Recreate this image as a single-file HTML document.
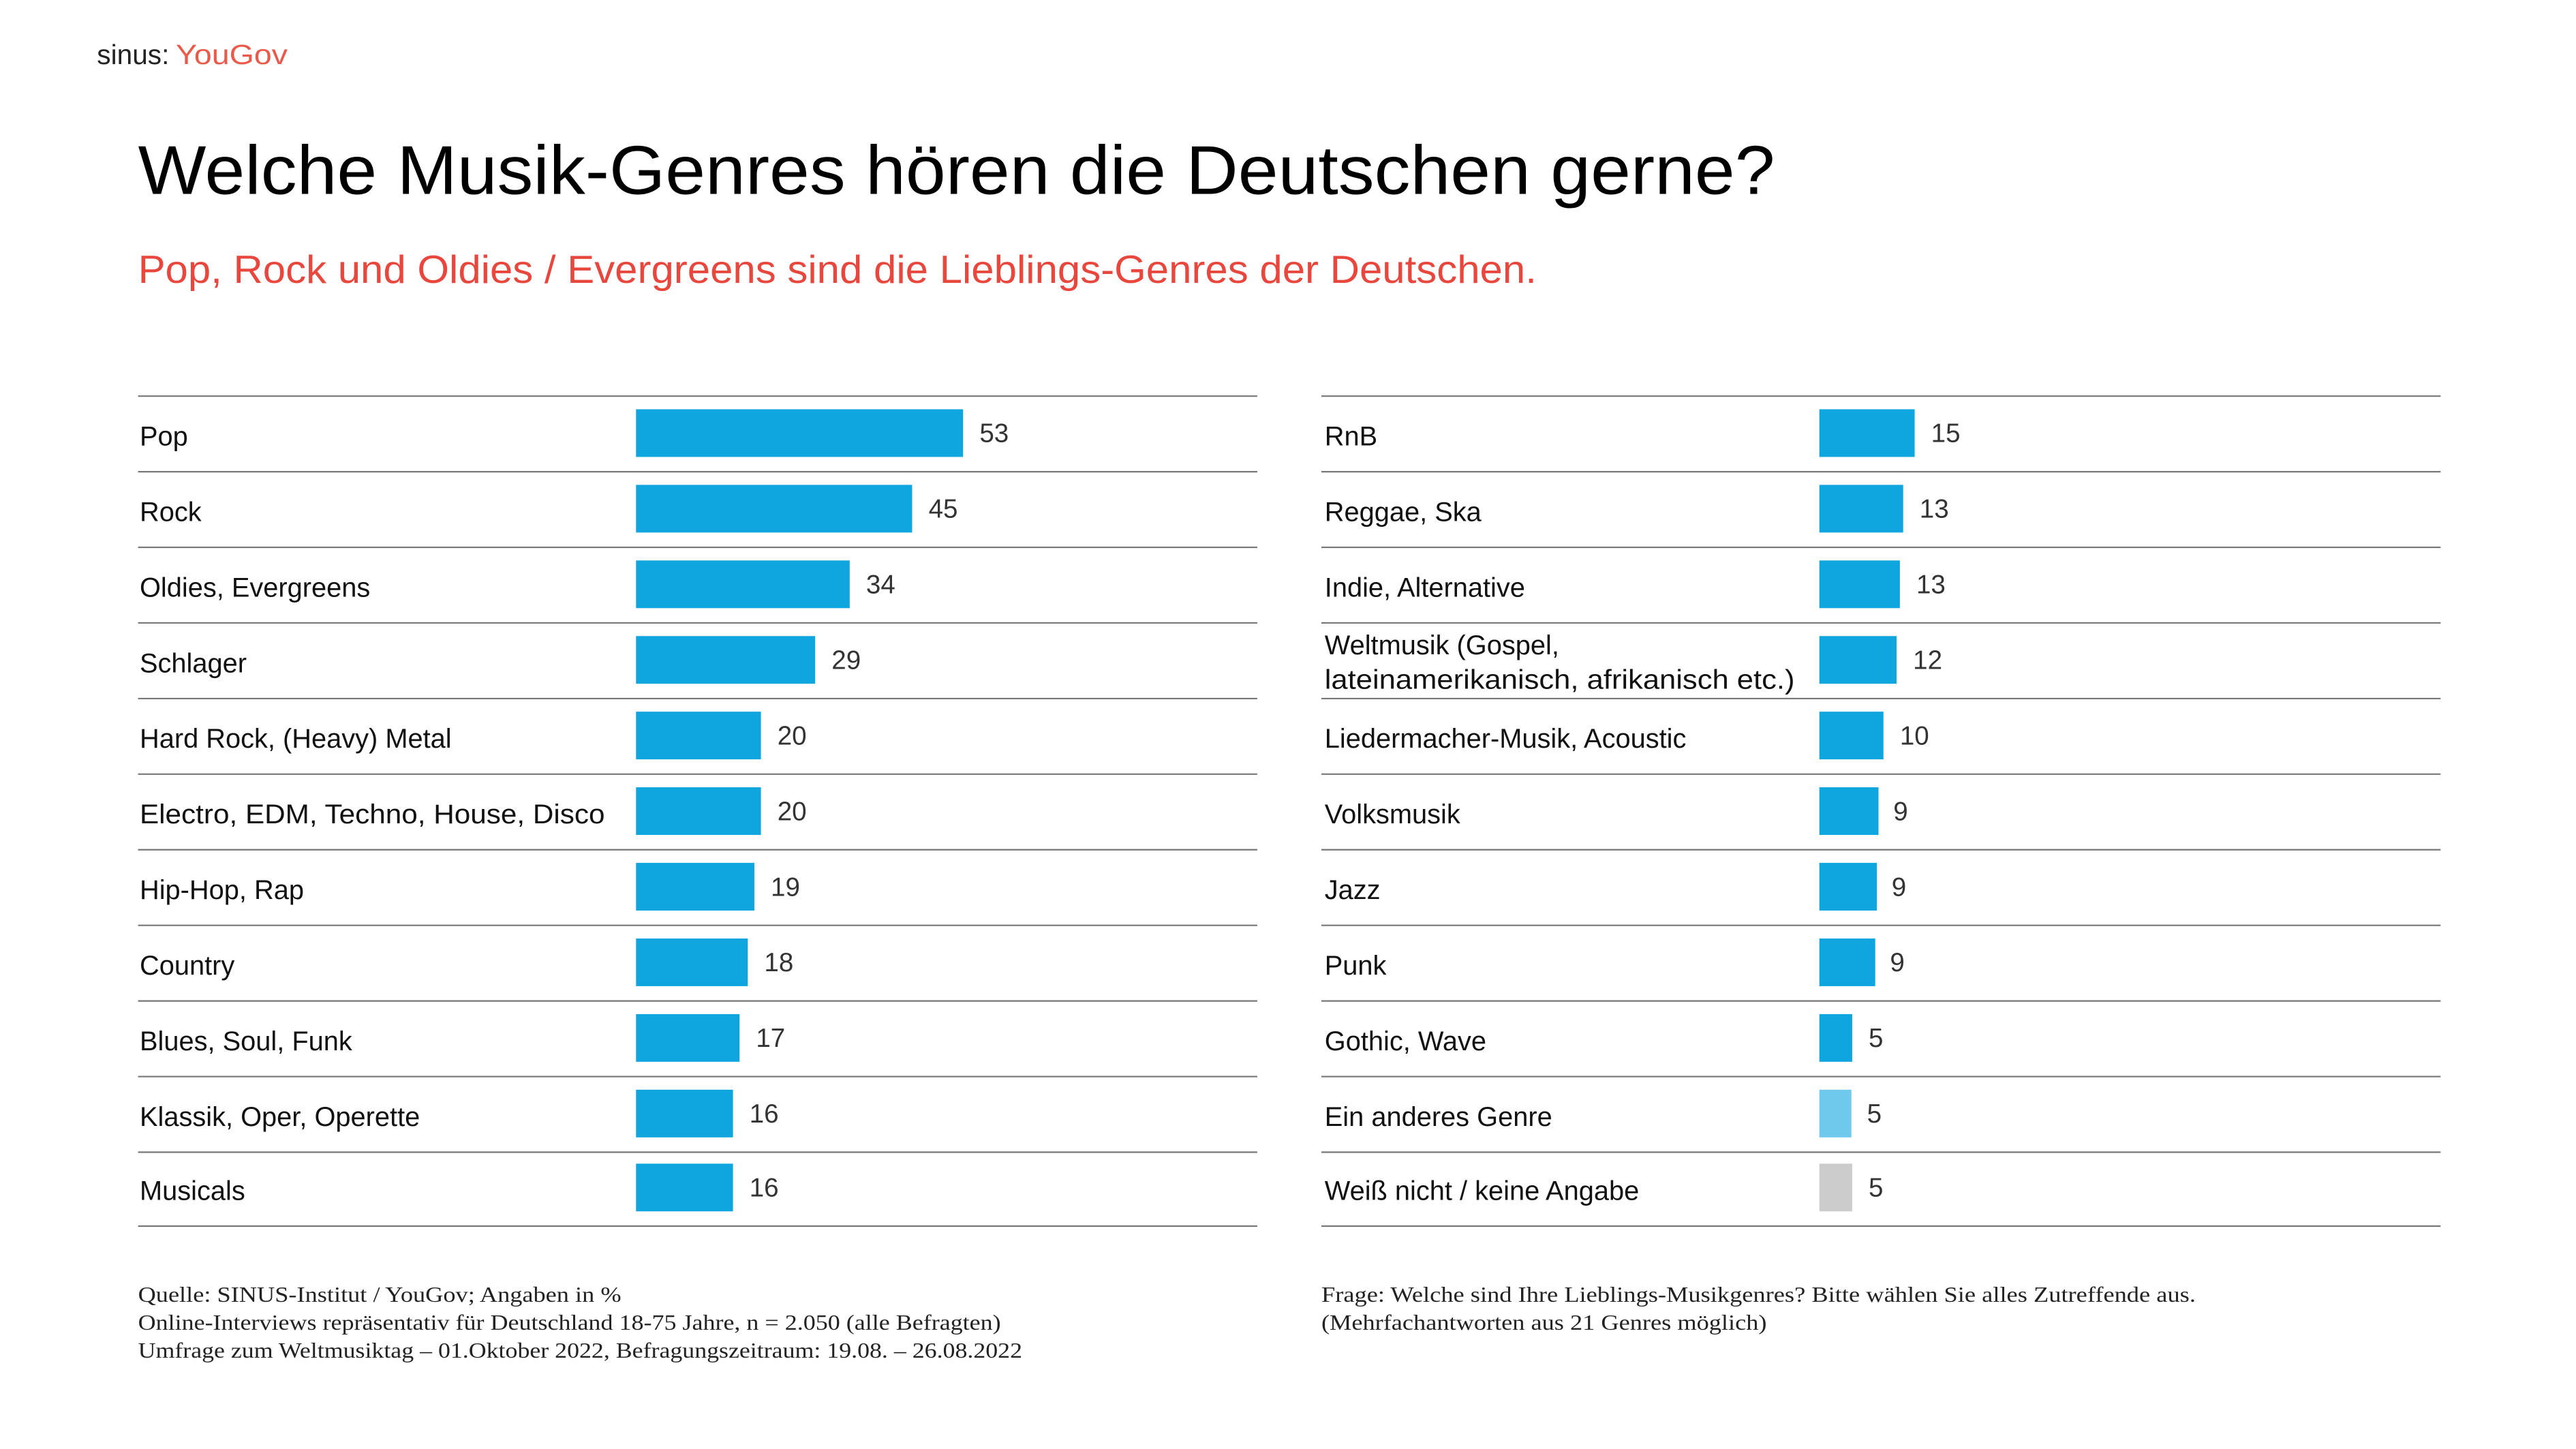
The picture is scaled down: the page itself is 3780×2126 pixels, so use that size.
<!DOCTYPE html>
<html><head><meta charset="utf-8"><style>html,body{margin:0;padding:0;background:#fff}svg{display:block}</style></head>
<body>
<svg xmlns="http://www.w3.org/2000/svg" width="3780" height="2126" viewBox="0 0 1567.4 881.6" preserveAspectRatio="none">
<rect width="1567.4" height="881.6" fill="#fff"/>
<g font-family="'Liberation Sans', 'DejaVu Sans', sans-serif">
<text x="59" y="39" font-size="17" fill="#222" textLength="44" lengthAdjust="spacingAndGlyphs">sinus:</text>
<text x="107" y="39" font-size="17" fill="#ea5a4a" textLength="68" lengthAdjust="spacingAndGlyphs">YouGov</text>
<text x="84" y="118" font-size="42" fill="#000" textLength="996" lengthAdjust="spacingAndGlyphs">Welche Musik-Genres hören die Deutschen gerne?</text>
<text x="84" y="172" font-size="24" fill="#e8473d" textLength="851" lengthAdjust="spacingAndGlyphs">Pop, Rock und Oldies / Evergreens sind die Lieblings-Genres der Deutschen.</text>
<g stroke="#777" stroke-width="0.9">
<line x1="84" x2="765" y1="241" y2="241"/><line x1="84" x2="765" y1="287" y2="287"/><line x1="84" x2="765" y1="333" y2="333"/><line x1="84" x2="765" y1="379" y2="379"/><line x1="84" x2="765" y1="425" y2="425"/><line x1="84" x2="765" y1="471" y2="471"/><line x1="84" x2="765" y1="517" y2="517"/><line x1="84" x2="765" y1="563" y2="563"/><line x1="84" x2="765" y1="609" y2="609"/><line x1="84" x2="765" y1="655" y2="655"/><line x1="84" x2="765" y1="701" y2="701"/><line x1="84" x2="765" y1="746" y2="746"/>
<line x1="804" x2="1485" y1="241" y2="241"/><line x1="804" x2="1485" y1="287" y2="287"/><line x1="804" x2="1485" y1="333" y2="333"/><line x1="804" x2="1485" y1="379" y2="379"/><line x1="804" x2="1485" y1="425" y2="425"/><line x1="804" x2="1485" y1="471" y2="471"/><line x1="804" x2="1485" y1="517" y2="517"/><line x1="804" x2="1485" y1="563" y2="563"/><line x1="804" x2="1485" y1="609" y2="609"/><line x1="804" x2="1485" y1="655" y2="655"/><line x1="804" x2="1485" y1="701" y2="701"/><line x1="804" x2="1485" y1="746" y2="746"/>
</g>
<g fill="#0fa5de">
<rect x="387" y="249" width="199" height="29"/><rect x="387" y="295" width="168" height="29"/><rect x="387" y="341" width="130" height="29"/><rect x="387" y="387" width="109" height="29"/><rect x="387" y="433" width="76" height="29"/><rect x="387" y="479" width="76" height="29"/><rect x="387" y="525" width="72" height="29"/><rect x="387" y="571" width="68" height="29"/><rect x="387" y="617" width="63" height="29"/><rect x="387" y="663" width="59" height="29"/><rect x="387" y="708" width="59" height="29"/>
<rect x="1107" y="249" width="58" height="29"/><rect x="1107" y="295" width="51" height="29"/><rect x="1107" y="341" width="49" height="29"/><rect x="1107" y="387" width="47" height="29"/><rect x="1107" y="433" width="39" height="29"/><rect x="1107" y="479" width="36" height="29"/><rect x="1107" y="525" width="35" height="29"/><rect x="1107" y="571" width="34" height="29"/><rect x="1107" y="617" width="20" height="29"/>
</g>
<rect x="1107" y="663" width="19.5" height="29" fill="#6fc9ec"/>
<rect x="1107" y="708" width="20" height="29" fill="#cccccc"/>
<g font-size="16.5" fill="#111">
<text x="85" y="271">Pop</text><text x="85" y="317">Rock</text><text x="85" y="363">Oldies, Evergreens</text><text x="85" y="409">Schlager</text><text x="85" y="455">Hard Rock, (Heavy) Metal</text><text x="85" y="501" textLength="283" lengthAdjust="spacingAndGlyphs">Electro,  EDM, Techno, House, Disco</text><text x="85" y="547">Hip-Hop, Rap</text><text x="85" y="593">Country</text><text x="85" y="639">Blues, Soul, Funk</text><text x="85" y="685">Klassik, Oper, Operette</text><text x="85" y="730">Musicals</text>
<text x="806" y="271">RnB</text><text x="806" y="317">Reggae, Ska</text><text x="806" y="363">Indie, Alternative</text><text x="806" y="398">Weltmusik (Gospel,</text><text x="806" y="419" textLength="286" lengthAdjust="spacingAndGlyphs">lateinamerikanisch, afrikanisch etc.)</text><text x="806" y="455">Liedermacher-Musik, Acoustic</text><text x="806" y="501">Volksmusik</text><text x="806" y="547">Jazz</text><text x="806" y="593">Punk</text><text x="806" y="639">Gothic, Wave</text><text x="806" y="685">Ein anderes Genre</text><text x="806" y="730">Weiß nicht / keine Angabe</text>
</g>
<g font-size="16" fill="#333">
<text x="596" y="269">53</text><text x="565" y="315">45</text><text x="527" y="361">34</text><text x="506" y="407">29</text><text x="473" y="453">20</text><text x="473" y="499">20</text><text x="469" y="545">19</text><text x="465" y="591">18</text><text x="460" y="637">17</text><text x="456" y="683">16</text><text x="456" y="728">16</text>
<text x="1175" y="269">15</text><text x="1168" y="315">13</text><text x="1166" y="361">13</text><text x="1164" y="407">12</text><text x="1156" y="453">10</text><text x="1152" y="499">9</text><text x="1151" y="545">9</text><text x="1150" y="591">9</text><text x="1137" y="637">5</text><text x="1136" y="683">5</text><text x="1137" y="728">5</text>
</g>
</g>
<g font-family="'Liberation Serif', serif" font-size="13" fill="#222">
<text x="84" y="792" textLength="294" lengthAdjust="spacingAndGlyphs">Quelle: SINUS-Institut / YouGov; Angaben in %</text>
<text x="84" y="809" textLength="525" lengthAdjust="spacingAndGlyphs">Online-Interviews repräsentativ für Deutschland 18-75 Jahre, n = 2.050 (alle Befragten)</text>
<text x="84" y="826" textLength="538" lengthAdjust="spacingAndGlyphs">Umfrage zum Weltmusiktag – 01.Oktober 2022, Befragungszeitraum: 19.08. – 26.08.2022</text>
<text x="804" y="792" textLength="532" lengthAdjust="spacingAndGlyphs">Frage: Welche sind Ihre Lieblings-Musikgenres? Bitte wählen Sie alles Zutreffende aus.</text>
<text x="804" y="809" textLength="271" lengthAdjust="spacingAndGlyphs">(Mehrfachantworten aus 21 Genres möglich)</text>
</g>
</svg>
</body></html>
